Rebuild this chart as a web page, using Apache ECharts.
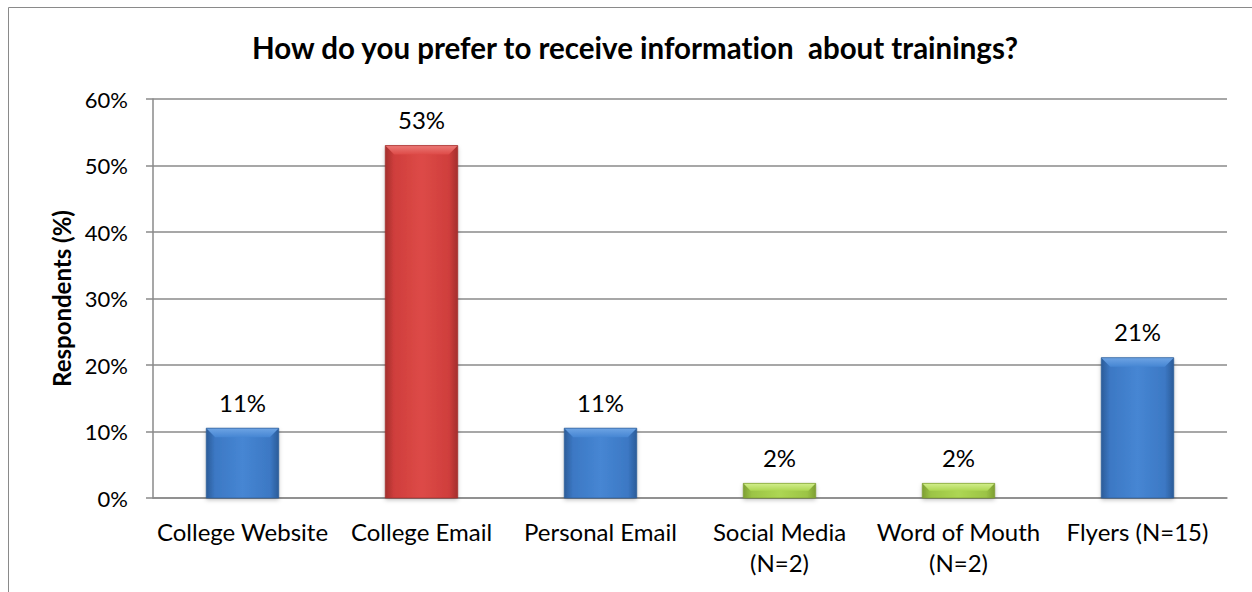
<!DOCTYPE html>
<html>
<head>
<meta charset="utf-8">
<script src="https://cdn.jsdelivr.net/npm/echarts@6/dist/echarts.min.js"></script>
<style>
  html, body { margin: 0; padding: 0; background: #ffffff; }
  #chart { width: 1252px; height: 592px; }
  #chart text { font-variant-ligatures: none; }
</style>
</head>
<body>
<div id="chart"></div>
<script>
// Survey: preferred channel for hearing about trainings
const categories = ['College Website', 'College Email', 'Personal Email', 'Social Media\n(N=2)', 'Word of Mouth\n(N=2)', 'Flyers (N=15)'];
const respondentsPct = [10.5, 53.0, 10.5, 2.2, 2.2, 21.1];
const barTone = ['blue', 'red', 'blue', 'green', 'green', 'blue'];
const yTicks = [0, 10, 20, 30, 40, 50, 60];

const FONT = 'Lato, "Open Sans", sans-serif';

const palette = {
  blue:  { edge: '#2b5c99', mid: '#3c78c4', light: '#4686d3', cap: '#6ea4e4' },
  red:   { edge: '#a32e2c', mid: '#cf3e3c', light: '#dd4a47', cap: '#ec7a77' },
  green: { edge: '#7d9e32', mid: '#9cc445', light: '#add653', cap: '#d2ee8c' }
};

function bodyGradient(p) {
  return new echarts.graphic.LinearGradient(0, 0, 1, 0, [
    { offset: 0, color: p.edge },
    { offset: 0.12, color: p.mid },
    { offset: 0.5, color: p.light },
    { offset: 0.88, color: p.mid },
    { offset: 1, color: p.edge }
  ]);
}

const barData = respondentsPct.map((v, i) => ({
  value: v,
  itemStyle: { color: bodyGradient(palette[barTone[i]]) }
}));

// SVG output so the text can be styled without ligatures
const chart = echarts.init(document.getElementById('chart'), null, { renderer: 'svg' });

chart.setOption({
  backgroundColor: '#ffffff',
  animation: false,
  title: {
    text: 'How do you prefer to receive information  about trainings?',
    left: 630,
    top: 27,
    textAlign: 'center',
    textStyle: { fontFamily: FONT, fontWeight: 'bold', fontSize: 29.5, color: '#000000' }
  },
  graphic: [{
    type: 'rect',
    shape: { x: 8.5, y: 7.5, width: 1400, height: 800 },
    style: { fill: 'none', stroke: '#8a8a8a', lineWidth: 1 },
    silent: true
  }],
  grid: { left: 153, right: 25, top: 99, bottom: 94, containLabel: false },
  xAxis: {
    type: 'category',
    data: categories,
    axisLine: { show: true, lineStyle: { color: '#8a8a8a', width: 1.5 } },
    axisTick: { show: false },
    axisLabel: {
      interval: 0,
      margin: 18,
      fontFamily: FONT,
      fontSize: 24,
      lineHeight: 31,
      color: '#000000'
    }
  },
  yAxis: {
    type: 'value',
    min: yTicks[0],
    max: yTicks[yTicks.length - 1],
    interval: yTicks[1] - yTicks[0],
    name: 'Respondents (%)',
    nameLocation: 'middle',
    nameGap: 44,
    nameRotate: 90,
    nameTextStyle: { fontFamily: FONT, fontWeight: 'bold', fontSize: 24, color: '#000000' },
    axisLine: { show: true, lineStyle: { color: '#8a8a8a', width: 1.5 } },
    axisTick: { show: true, inside: false, length: 7, lineStyle: { color: '#8a8a8a', width: 1.5 } },
    axisLabel: {
      margin: 25,
      fontFamily: FONT,
      fontSize: 22,
      color: '#000000',
      formatter: v => v + '%'
    },
    splitLine: { show: true, lineStyle: { color: '#8a8a8a', width: 1.5 } }
  },
  series: [
    {
      type: 'bar',
      data: barData,
      barWidth: '40.5%',
      itemStyle: { borderWidth: 0, shadowColor: 'rgba(0,0,0,0.25)', shadowBlur: 4, shadowOffsetY: 2 },
      label: {
        show: true,
        position: 'top',
        distance: 14,
        fontFamily: FONT,
        fontSize: 24,
        color: '#000000',
        formatter: p => Math.round(p.value) + '%'
      },
      z: 2
    },
    {
      // bevelled cap on top of each bar
      type: 'custom',
      data: respondentsPct.map((v, i) => [i, v]),
      z: 3,
      silent: true,
      renderItem: function (params, api) {
        const i = api.value(0);
        const top = api.coord([i, api.value(1)]);
        const base = api.coord([i, 0]);
        const band = api.size([1, 0])[0];
        const w = band * 0.405;
        const x0 = top[0] - w / 2;
        const x1 = top[0] + w / 2;
        const h = base[1] - top[1];
        const b = Math.min(9, h / 2);
        const p = palette[barTone[i]];
        return {
          type: 'group',
          children: [
            {
              type: 'polygon',
              shape: { points: [[x0, top[1]], [x1, top[1]], [x1 - b, top[1] + b], [x0 + b, top[1] + b]] },
              style: {
                fill: new echarts.graphic.LinearGradient(0, 0, 0, 1, [
                  { offset: 0, color: p.cap },
                  { offset: 1, color: p.light }
                ])
              }
            },
            {
              type: 'rect',
              shape: { x: x0, y: top[1], width: w, height: h },
              style: { fill: 'none', stroke: p.edge, lineWidth: 1, opacity: 0.7 }
            }
          ]
        };
      }
    }
  ]
});
</script>
</body>
</html>
